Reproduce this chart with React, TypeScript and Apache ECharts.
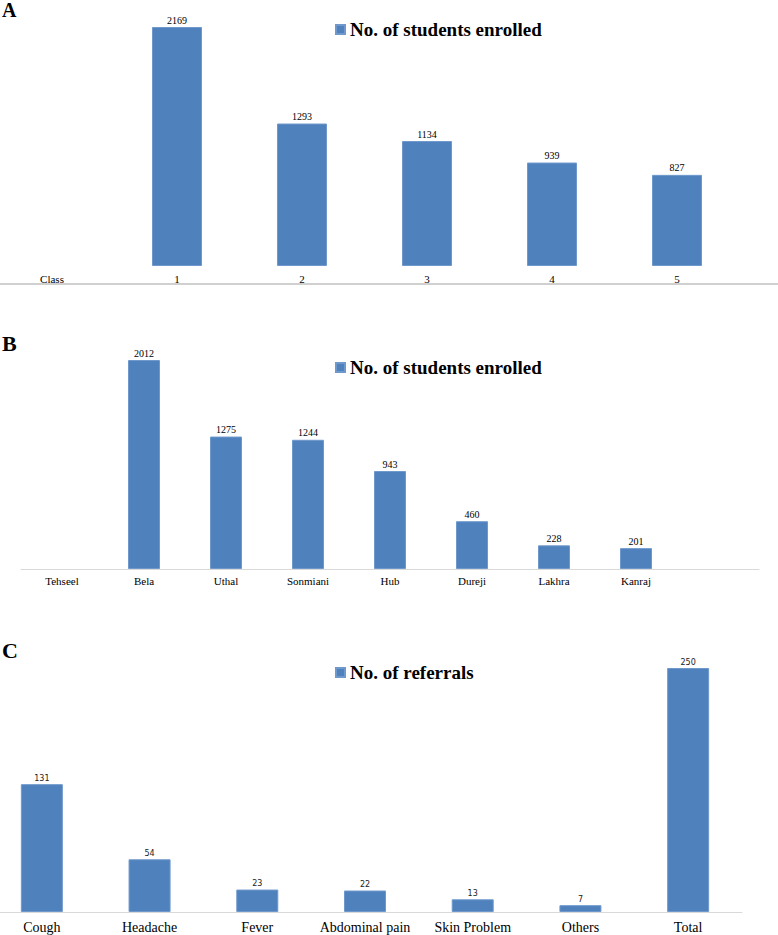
import React, { useEffect, useRef } from "react";
import * as echarts from "echarts";

const classCategories = ["Class", "1", "2", "3", "4", "5"];
const classValues: (number | null)[] = [null, 2169, 1293, 1134, 939, 827];

const tehseelCategories = ["Tehseel", "Bela", "Uthal", "Sonmiani", "Hub", "Dureji", "Lakhra", "Kanraj", ""];
const tehseelValues: (number | null)[] = [null, 2012, 1275, 1244, 943, 460, 228, 201, null];

const referralCategories = ["Cough", "Headache", "Fever", "Abdominal pain", "Skin Problem", "Others", "Total"];
const referralValues = [131, 54, 23, 22, 13, 7, 250];

const seriesNameStudents = "No. of students enrolled";
const seriesNameReferrals = "No. of referrals";

const BAR = "#4f81bd";
const SERIF = "'Liberation Serif', 'Times New Roman', serif";
const OFF = 20; // chart canvas extends 20px left of the visible page so grids may start before x=0

const maxOf = (a: (number | null)[]) => Math.max(...(a.filter((v) => v != null) as number[]));

export default function App() {
  const ref = useRef<HTMLDivElement>(null);
  useEffect(() => {
    document.body.style.margin = "0";
    const chart = echarts.init(ref.current!, undefined, { renderer: "svg" });
    const legendText = { fontFamily: SERIF, fontWeight: "bold" as const, fontSize: 19, color: "#000" };
    const baseLegend = {
      orient: "horizontal" as const,
      left: 335 + OFF,
      padding: 0,
      itemWidth: 9,
      itemHeight: 9,
      icon: "rect",
      textStyle: legendText,
      selectedMode: false,
    };
    const hiddenY = (i: number, max: number) => ({
      type: "value" as const,
      gridIndex: i,
      min: 0,
      max,
      show: false,
    });
    chart.setOption({
      animation: false,
      legend: [
        { ...baseLegend, top: 20, data: [{ name: seriesNameStudents, itemStyle: { color: BAR } }] },
        { ...baseLegend, top: 358, data: [{ name: seriesNameStudents, itemStyle: { color: BAR } }] },
        { ...baseLegend, top: 663, data: [{ name: seriesNameReferrals, itemStyle: { color: BAR } }] },
      ],
      grid: [
        { left: -10.5 + OFF, width: 750, top: 27, height: 239 },
        { left: 21 + OFF, width: 738, top: 360, height: 209 },
        { left: -12 + OFF, width: 754, top: 668, height: 244 },
      ],
      xAxis: [
        {
          type: "category",
          gridIndex: 0,
          data: classCategories,
          axisLine: { show: false },
          axisTick: { show: false },
          axisLabel: { interval: 0, margin: 7, fontFamily: SERIF, fontSize: 11, color: "#000" },
        },
        {
          type: "category",
          gridIndex: 1,
          data: tehseelCategories,
          axisLine: { show: true, lineStyle: { color: "#d9d9d9", width: 1 } },
          axisTick: { show: false },
          axisLabel: { interval: 0, margin: 6, fontFamily: SERIF, fontSize: 11, color: "#000" },
        },
        {
          type: "category",
          gridIndex: 2,
          data: referralCategories,
          axisLine: { show: true, lineStyle: { color: "#d9d9d9", width: 1 } },
          axisTick: { show: false },
          axisLabel: { interval: 0, margin: 8, fontFamily: SERIF, fontSize: 14, color: "#000" },
        },
      ],
      yAxis: [hiddenY(0, maxOf(classValues)), hiddenY(1, maxOf(tehseelValues)), hiddenY(2, maxOf(referralValues))],
      series: [
        {
          type: "bar",
          name: seriesNameStudents,
          xAxisIndex: 0,
          yAxisIndex: 0,
          data: classValues,
          barWidth: 50,
          itemStyle: { color: BAR, borderColor: "#6f99cc", borderWidth: 1 },
          label: { show: true, position: "top", distance: 2, fontFamily: SERIF, fontSize: 10, color: "#000" },
        },
        {
          type: "bar",
          name: seriesNameStudents,
          xAxisIndex: 1,
          yAxisIndex: 1,
          data: tehseelValues,
          barWidth: 32,
          itemStyle: { color: BAR, borderColor: "#6f99cc", borderWidth: 1 },
          label: { show: true, position: "top", distance: 2, fontFamily: SERIF, fontSize: 10, color: "#000" },
        },
        {
          type: "bar",
          name: seriesNameReferrals,
          xAxisIndex: 2,
          yAxisIndex: 2,
          data: referralValues,
          barWidth: 42,
          itemStyle: { color: BAR, borderColor: "#6f99cc", borderWidth: 1 },
          label: { show: true, position: "top", distance: 2, fontFamily: "'DejaVu Sans', sans-serif", fontSize: 8, color: "#222" },
        },
      ],
      graphic: [
        { type: "line", shape: { x1: OFF, y1: 284, x2: 778 + OFF, y2: 284 }, style: { stroke: "#d0d0d0", lineWidth: 2 } },
        { type: "text", left: 2 + OFF, top: 0, style: { text: "A", font: `bold 20px ${SERIF}`, fill: "#000" } },
        { type: "text", left: 2 + OFF, top: 332, style: { text: "B", font: `bold 22px ${SERIF}`, fill: "#000" } },
        { type: "text", left: 2 + OFF, top: 639, style: { text: "C", font: `bold 22px ${SERIF}`, fill: "#000" } },
      ],
    });
    return () => chart.dispose();
  }, []);
  return (
    <div style={{ width: 778, height: 935, overflow: "hidden", position: "relative" }}>
      <div ref={ref} style={{ width: 778 + OFF, height: 935, position: "absolute", left: -OFF, top: 0 }} />
    </div>
  );
}
